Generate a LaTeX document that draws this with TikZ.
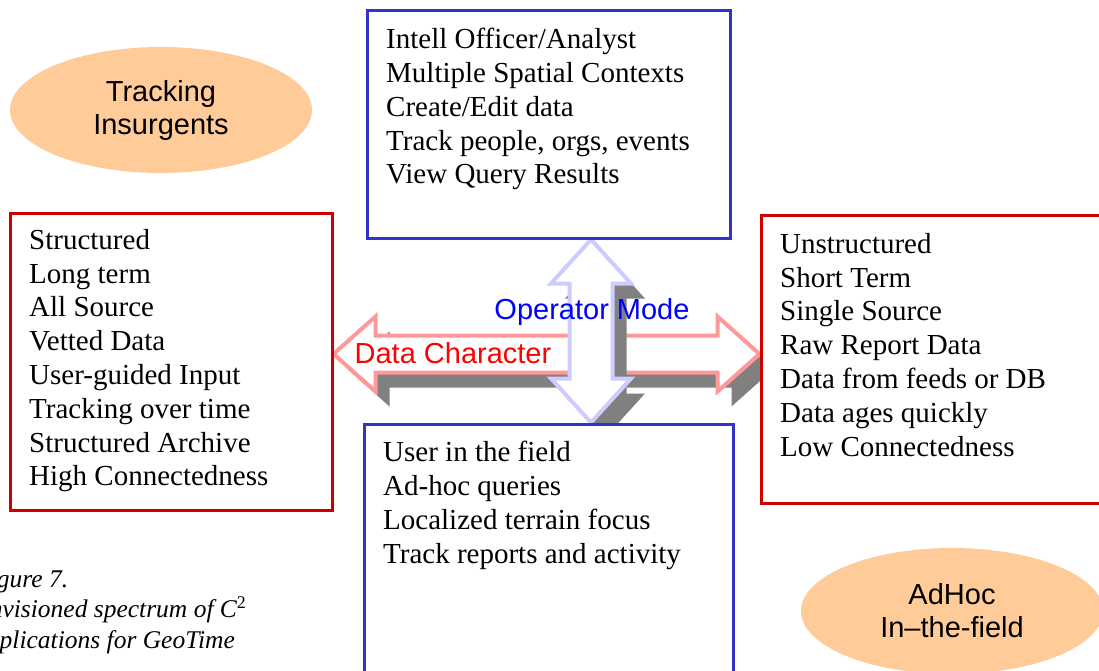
\documentclass[tikz,border=0pt]{standalone}
\usepackage{fontspec}
\setmainfont{Liberation Serif}
\newfontfamily\arialfont{Liberation Sans}
\usepackage{tikz}
\usetikzlibrary{calc,shapes.geometric,shadows,backgrounds}

\definecolor{boxred}{RGB}{204,0,0}
\definecolor{boxblue}{RGB}{51,51,204}
\definecolor{peach}{RGB}{255,204,153}
\definecolor{arrowpink}{RGB}{255,153,153}
\definecolor{arrowlilac}{RGB}{204,204,255}
\definecolor{shadegray}{RGB}{128,128,128}

\tikzset{
  redbox/.style={draw=boxred,fill=white,line width=3pt,rectangle,inner sep=0pt},
  bluebox/.style={draw=boxblue,fill=white,line width=3pt,rectangle,inner sep=0pt},
  blob/.style={ellipse,fill=peach,minimum width=302pt,minimum height=126pt,inner sep=0pt,
    align=center,font=\arialfont\fontsize{29}{33}\selectfont},
  items/.style={anchor=north west,align=left,inner sep=0pt,font=\fontsize{29}{33.8}\selectfont},
  blockarrow/.style={fill=white,line width=4pt,line join=miter,
    drop shadow={shadow xshift=14pt,shadow yshift=-15pt,fill=shadegray,opacity=1}}
}

\begin{document}
\begin{tikzpicture}[x=1pt,y=-1pt]
  \useasboundingbox (0,0) rectangle (1099,670);

  \draw (161,110) node[blob] (tracking) {Tracking\\Insurgents};
  \draw (952,611) node[blob] (adhoc) {AdHoc\\In–the-field};

   % the four boxes
   \draw (548.5,124) node[bluebox,minimum width=363,minimum height=228] (intell) {};
   \draw (548.5,562) node[bluebox,minimum width=369,minimum height=276] (field) {};
   \draw (171,361.5) node[redbox,minimum width=322,minimum height=297] (structured) {};
   \draw (940.5,359) node[redbox,minimum width=359,minimum height=288] (unstructured) {};

   \draw (386,28) node[items] (intelltext) {Intell Officer/Analyst\\Multiple Spatial Contexts\\Create/Edit data\\Track people, orgs, events\\View Query Results};
   \draw (383,441) node[items] (fieldtext) {User in the field\\Ad-hoc queries\\Localized terrain focus\\Track reports and activity};
   \draw (29,229) node[items] (structuredtext) {Structured\\Long term\\All Source\\Vetted Data\\User-guided Input\\Tracking over time\\Structured Archive\\High Connectedness};
   \draw (780,233) node[items] (unstructuredtext) {Unstructured\\Short Term\\Single Source\\Raw Report Data\\Data from feeds or DB\\Data ages quickly\\Low Connectedness};

   % block arrows, behind the boxes
   \coordinate (hl) at ([yshift=7.5pt]structured.east);
   \coordinate (hr) at ([yshift=5pt]unstructured.west);
   \coordinate (vt) at ([xshift=42.5pt]intell.south);
   \coordinate (vb) at ([xshift=42.5pt]field.north);

   \begin{scope}[on background layer]
   \draw[blockarrow,draw=arrowpink] (hl) -- ++(42,-37.5) -- ++(0,19) -- ($(hr)+(-42,-18.5)$) -- ++(0,-19) -- (hr)
        -- ++(-42,37.5) -- ++(0,-19) -- ($(hl)+(42,18.5)$) -- ++(0,19) -- cycle;
   \draw[blockarrow,draw=arrowlilac] (vt) -- ++(40,44) -- ++(-18.5,0) -- ($(vb)+(21.5,-44)$) -- ++(18.5,0) -- (vb)
        -- ++(-40,-44) -- ++(18.5,0) -- ($(vt)+(-21.5,44)$) -- ++(-18.5,0) -- cycle;
   \end{scope}

  \draw (592,319) node[anchor=base,inner sep=0pt,font=\arialfont\fontsize{29}{33}\selectfont,text=blue] (opmode) {Operator Mode};
  \draw (453,363) node[anchor=base,inner sep=0pt,font=\arialfont\fontsize{29}{33}\selectfont,text=red] (datachar) {Data Character};

  \draw (-26,570) node[anchor=north west,align=left,inner sep=0pt,font=\itshape\fontsize{25.5}{30.5}\selectfont] (caption)
     {Figure 7.\\Envisioned spectrum of C\textsuperscript{\upshape 2}\\applications for GeoTime};
\end{tikzpicture}
\end{document}
